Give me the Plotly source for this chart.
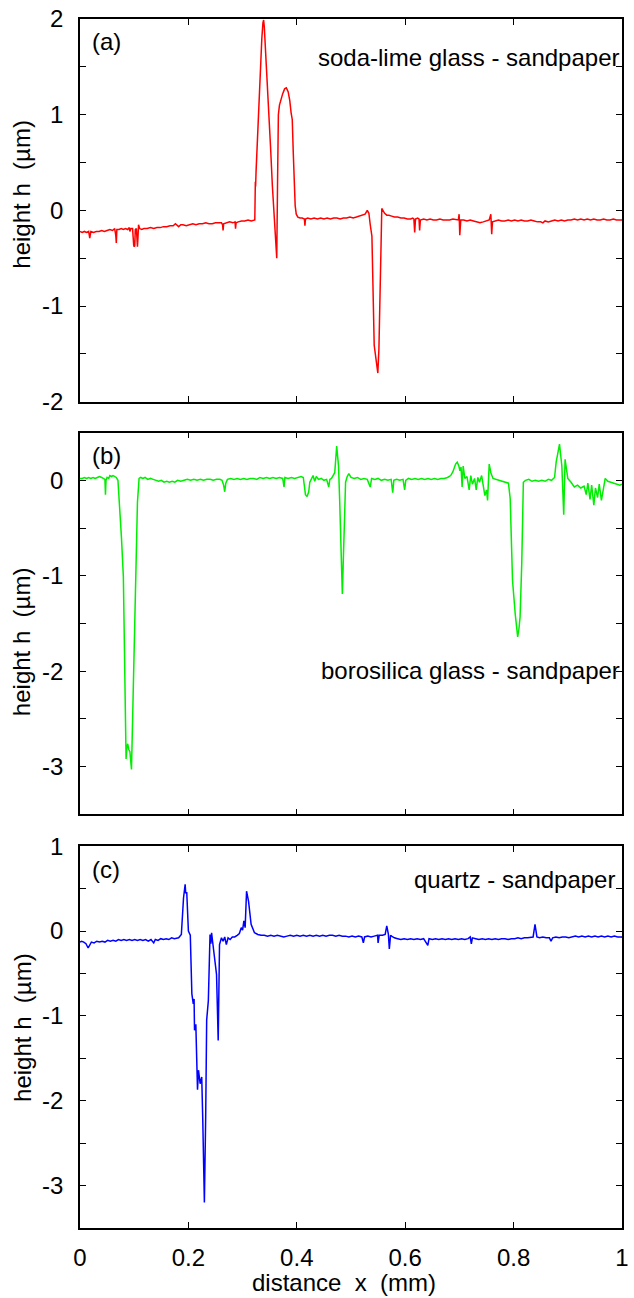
import plotly.graph_objects as go

# Surface height profiles h(x) measured across scratches made with sandpaper.
# Each profile is a list of (distance x in mm, height h in um) samples.
soda_lime = [
    (0.000, -0.22), (0.004, -0.23), (0.008, -0.22), (0.012, -0.23), (0.016, -0.22), (0.018, -0.29), (0.020, -0.22),
    (0.025, -0.23), (0.030, -0.22), (0.035, -0.22), (0.040, -0.21), (0.045, -0.22), (0.050, -0.21), (0.055, -0.20),
    (0.060, -0.21), (0.064, -0.19), (0.066, -0.26), (0.067, -0.34), (0.068, -0.20), (0.072, -0.20), (0.076, -0.19),
    (0.080, -0.20), (0.084, -0.19), (0.088, -0.20), (0.091, -0.18), (0.092, -0.22), (0.094, -0.19), (0.097, -0.19),
    (0.099, -0.36), (0.100, -0.38), (0.101, -0.37), (0.102, -0.20), (0.104, -0.19), (0.105, -0.30), (0.106, -0.38),
    (0.107, -0.28), (0.108, -0.15), (0.110, -0.19), (0.114, -0.20), (0.118, -0.19), (0.124, -0.19), (0.130, -0.18),
    (0.136, -0.19), (0.142, -0.18), (0.148, -0.18), (0.154, -0.17), (0.160, -0.17), (0.166, -0.16), (0.172, -0.16),
    (0.176, -0.14), (0.178, -0.15), (0.182, -0.17), (0.186, -0.15), (0.190, -0.15), (0.196, -0.16), (0.202, -0.15),
    (0.208, -0.14), (0.214, -0.15), (0.220, -0.14), (0.226, -0.14), (0.232, -0.13), (0.238, -0.14), (0.244, -0.14),
    (0.250, -0.13), (0.256, -0.13), (0.261, -0.13), (0.263, -0.15), (0.264, -0.21), (0.265, -0.14), (0.270, -0.13),
    (0.276, -0.12), (0.282, -0.13), (0.286, -0.12), (0.287, -0.19), (0.288, -0.13), (0.292, -0.12), (0.298, -0.11),
    (0.304, -0.11), (0.310, -0.10), (0.316, -0.11), (0.320, -0.10), (0.3225, -0.10),
    (0.3235, 0.30), (0.3240, 0.25), (0.3248, 0.40), (0.3265, 0.65), (0.3275, 0.80), (0.3280, 0.72), (0.3291, 0.85),
    (0.3310, 1.15), (0.3328, 1.43), (0.3355, 1.80), (0.3375, 1.96), (0.3388, 1.99), (0.3400, 1.92), (0.3440, 1.52),
    (0.3480, 1.08), (0.3515, 0.67), (0.3550, 0.25), (0.3585, -0.10), (0.3615, -0.40), (0.3630, -0.50),
    (0.3645, 0.30), (0.3660, 1.00), (0.3680, 1.10), (0.3710, 1.17), (0.3740, 1.22), (0.3775, 1.27), (0.3807, 1.28),
    (0.3840, 1.24), (0.3870, 1.15), (0.3895, 1.02), (0.3916, 0.95), (0.3935, 0.60), (0.3955, 0.20), (0.3970, 0.05),
    (0.3990, -0.04), (0.4020, -0.07), (0.4060, -0.08), (0.4100, -0.08), (0.4140, -0.09), (0.4150, -0.16),
    (0.4160, -0.09), (0.4200, -0.08), (0.426, -0.09), (0.432, -0.08), (0.438, -0.09), (0.444, -0.08), (0.450, -0.09),
    (0.456, -0.08), (0.462, -0.09), (0.468, -0.08), (0.474, -0.08), (0.480, -0.09), (0.486, -0.08), (0.492, -0.08),
    (0.498, -0.07), (0.504, -0.08), (0.510, -0.07), (0.516, -0.06), (0.522, -0.05), (0.526, -0.04), (0.530, 0.00),
    (0.5330, -0.03), (0.5355, -0.15), (0.5386, -0.27), (0.5428, -1.41), (0.5470, -1.62), (0.5495, -1.70),
    (0.5515, -1.45), (0.5537, -0.99), (0.5555, -0.35), (0.5568, 0.02), (0.5590, 0.00), (0.5620, -0.03),
    (0.566, -0.05), (0.570, -0.05), (0.575, -0.06), (0.580, -0.07), (0.586, -0.07), (0.592, -0.08), (0.598, -0.08),
    (0.604, -0.09), (0.610, -0.09), (0.614, -0.08), (0.616, -0.09), (0.6175, -0.23), (0.619, -0.09), (0.623, -0.08),
    (0.6255, -0.09), (0.6266, -0.21), (0.628, -0.10), (0.634, -0.09), (0.640, -0.10), (0.646, -0.09), (0.652, -0.10),
    (0.658, -0.10), (0.664, -0.09), (0.670, -0.10), (0.676, -0.10), (0.682, -0.10), (0.688, -0.09), (0.694, -0.10),
    (0.698, -0.10), (0.6995, -0.04), (0.7007, -0.26), (0.7025, -0.10), (0.708, -0.10), (0.714, -0.11), (0.720, -0.10),
    (0.726, -0.11), (0.732, -0.12), (0.738, -0.13), (0.744, -0.12), (0.750, -0.11), (0.755, -0.10), (0.758, -0.04),
    (0.7596, -0.25), (0.761, -0.12), (0.766, -0.11), (0.772, -0.10), (0.778, -0.11), (0.784, -0.11), (0.790, -0.10),
    (0.796, -0.11), (0.802, -0.10), (0.808, -0.11), (0.814, -0.10), (0.820, -0.11), (0.826, -0.11), (0.832, -0.10),
    (0.838, -0.11), (0.844, -0.12), (0.850, -0.12), (0.854, -0.13), (0.858, -0.11), (0.864, -0.12), (0.870, -0.11),
    (0.876, -0.10), (0.882, -0.11), (0.888, -0.10), (0.894, -0.11), (0.900, -0.10), (0.906, -0.10), (0.912, -0.09),
    (0.918, -0.10), (0.924, -0.09), (0.930, -0.10), (0.936, -0.09), (0.942, -0.10), (0.948, -0.09), (0.954, -0.10),
    (0.960, -0.10), (0.966, -0.09), (0.972, -0.10), (0.978, -0.10), (0.984, -0.09), (0.990, -0.10), (0.996, -0.10),
    (1.000, -0.10),
]

borosilica = [
    (0.000, 0.02), (0.004, 0.02), (0.008, 0.03), (0.012, 0.02), (0.016, 0.03), (0.020, 0.02), (0.024, 0.03),
    (0.028, 0.02), (0.032, 0.03), (0.036, 0.04), (0.040, 0.03), (0.044, 0.02), (0.046, 0.01), (0.047, -0.15),
    (0.048, 0.00), (0.050, 0.03), (0.053, 0.02), (0.055, 0.05), (0.058, 0.04), (0.061, 0.05), (0.064, 0.04),
    (0.067, 0.03), (0.070, 0.00), (0.0715, -0.14), (0.073, -0.17), (0.0765, -0.60), (0.080, -1.01), (0.0825, -1.95),
    (0.085, -2.92), (0.0865, -2.80), (0.088, -2.76), (0.090, -2.82), (0.092, -2.84), (0.095, -3.03), (0.098, -2.25),
    (0.1005, -1.60), (0.103, -1.05), (0.106, -0.23), (0.109, 0.02), (0.112, 0.03), (0.116, 0.02), (0.120, 0.03),
    (0.125, 0.01), (0.130, 0.02), (0.135, 0.01), (0.140, 0.00), (0.145, -0.01), (0.150, 0.00), (0.155, -0.02),
    (0.160, -0.01), (0.165, -0.02), (0.170, -0.01), (0.175, -0.02), (0.180, 0.00), (0.186, -0.01), (0.192, 0.00),
    (0.198, 0.01), (0.204, 0.00), (0.210, 0.01), (0.216, 0.00), (0.222, 0.01), (0.228, 0.00), (0.234, 0.01),
    (0.240, 0.01), (0.246, 0.00), (0.252, 0.01), (0.258, 0.01), (0.262, 0.00), (0.265, -0.05), (0.267, -0.12),
    (0.269, -0.03), (0.272, 0.01), (0.278, 0.02), (0.284, 0.01), (0.290, 0.02), (0.296, 0.01), (0.302, 0.02),
    (0.308, 0.01), (0.314, 0.02), (0.320, 0.02), (0.326, 0.01), (0.332, 0.03), (0.338, 0.02), (0.344, 0.03),
    (0.350, 0.02), (0.356, 0.03), (0.362, 0.02), (0.368, 0.03), (0.374, 0.02), (0.3765, -0.07), (0.378, 0.03),
    (0.384, 0.02), (0.390, 0.03), (0.396, 0.02), (0.402, 0.03), (0.408, 0.04), (0.412, 0.03), (0.414, -0.05),
    (0.416, -0.15), (0.419, -0.17), (0.422, -0.12), (0.424, -0.02), (0.428, 0.03), (0.430, 0.05), (0.433, -0.01),
    (0.436, 0.04), (0.440, 0.01), (0.445, 0.02), (0.450, 0.00), (0.455, 0.01), (0.459, -0.07), (0.461, 0.01),
    (0.464, 0.02), (0.467, 0.05), (0.470, 0.08), (0.4736, 0.36), (0.476, 0.20), (0.477, 0.15), (0.479, -0.19),
    (0.482, -1.01), (0.484, -1.19), (0.4855, -0.90), (0.487, -0.53), (0.490, -0.02), (0.493, 0.04), (0.496, 0.07),
    (0.500, 0.03), (0.506, 0.02), (0.512, 0.03), (0.518, 0.01), (0.524, 0.02), (0.530, 0.01), (0.5355, -0.07),
    (0.538, 0.02), (0.544, 0.01), (0.550, 0.02), (0.556, 0.00), (0.562, 0.01), (0.568, 0.00), (0.574, 0.01),
    (0.577, -0.13), (0.579, 0.00), (0.584, 0.01), (0.590, 0.00), (0.596, 0.01), (0.599, -0.10), (0.601, 0.00),
    (0.606, 0.02), (0.612, 0.01), (0.618, 0.02), (0.624, 0.01), (0.630, 0.02), (0.636, 0.01), (0.642, 0.02),
    (0.648, 0.01), (0.654, 0.02), (0.660, 0.01), (0.666, 0.02), (0.672, 0.02), (0.678, 0.03), (0.684, 0.05),
    (0.688, 0.09), (0.693, 0.17), (0.696, 0.19), (0.699, 0.15), (0.701, 0.10), (0.703, 0.14), (0.705, -0.07),
    (0.707, 0.15), (0.710, 0.02), (0.714, 0.04), (0.718, -0.10), (0.721, 0.05), (0.724, -0.04), (0.728, 0.02),
    (0.731, -0.10), (0.734, 0.03), (0.737, -0.02), (0.741, 0.05), (0.744, -0.05), (0.747, -0.16), (0.750, -0.10),
    (0.752, -0.21), (0.755, 0.17), (0.758, 0.08), (0.762, 0.02), (0.768, 0.01), (0.774, 0.00), (0.780, -0.01),
    (0.786, -0.02), (0.7905, -0.03), (0.7937, -0.19), (0.798, -1.05), (0.803, -1.40), (0.8075, -1.64), (0.810, -1.55),
    (0.812, -1.43), (0.815, -0.88), (0.818, -0.02), (0.822, 0.00), (0.828, 0.01), (0.834, -0.01), (0.840, 0.00),
    (0.846, -0.01), (0.852, 0.00), (0.858, -0.01), (0.864, 0.01), (0.870, 0.00), (0.8756, 0.03), (0.8785, 0.19),
    (0.8847, 0.38), (0.889, 0.15), (0.8925, -0.36), (0.895, 0.22), (0.900, 0.02), (0.906, -0.02), (0.912, -0.07),
    (0.918, -0.05), (0.924, -0.08), (0.930, -0.06), (0.934, -0.15), (0.937, -0.03), (0.941, -0.20), (0.944, -0.05),
    (0.948, -0.26), (0.951, -0.08), (0.955, -0.18), (0.958, -0.04), (0.962, -0.21), (0.966, -0.08), (0.969, 0.02),
    (0.974, -0.01), (0.980, -0.02), (0.986, -0.03), (0.992, -0.04), (0.996, -0.05), (1.000, -0.04),
]

quartz = [
    (0.000, -0.13), (0.003, -0.12), (0.007, -0.13), (0.011, -0.15), (0.015, -0.20), (0.018, -0.16), (0.021, -0.13),
    (0.026, -0.14), (0.031, -0.12), (0.036, -0.13), (0.041, -0.12), (0.046, -0.13), (0.051, -0.11), (0.056, -0.12),
    (0.061, -0.11), (0.066, -0.12), (0.071, -0.10), (0.076, -0.11), (0.081, -0.10), (0.086, -0.11), (0.091, -0.10),
    (0.096, -0.11), (0.101, -0.10), (0.106, -0.11), (0.111, -0.10), (0.116, -0.11), (0.121, -0.10), (0.126, -0.12),
    (0.131, -0.10), (0.136, -0.14), (0.139, -0.10), (0.144, -0.11), (0.149, -0.09), (0.154, -0.10), (0.159, -0.09),
    (0.164, -0.10), (0.169, -0.08), (0.174, -0.09), (0.179, -0.08), (0.182, -0.08), (0.187, -0.04), (0.191, 0.39),
    (0.194, 0.55), (0.195, 0.45), (0.197, 0.45), (0.200, 0.00), (0.2035, -0.05), (0.2064, -0.74), (0.209, -0.86),
    (0.2105, -0.80), (0.2113, -1.17), (0.2137, -1.10), (0.2168, -1.87), (0.2186, -1.64), (0.2217, -1.80),
    (0.2246, -1.72), (0.2264, -2.19), (0.2295, -3.20), (0.2319, -2.19), (0.2337, -1.05), (0.2368, -0.82),
    (0.2399, -0.04), (0.2415, -0.15), (0.2428, -0.02), (0.2446, -0.12), (0.249, -0.39), (0.2519, -0.51),
    (0.255, -1.29), (0.2574, -0.16), (0.261, -0.08), (0.264, -0.12), (0.267, -0.07), (0.270, -0.16), (0.2732, -0.08),
    (0.277, -0.10), (0.281, -0.07), (0.2854, -0.07), (0.290, -0.05), (0.294, -0.03), (0.2975, 0.04), (0.300, 0.01),
    (0.3024, 0.12), (0.3047, 0.04), (0.3073, 0.47), (0.311, 0.35), (0.3157, 0.08), (0.3219, -0.02), (0.328, -0.04),
    (0.334, -0.05), (0.340, -0.05), (0.346, -0.06), (0.352, -0.05), (0.358, -0.06), (0.364, -0.05), (0.370, -0.06),
    (0.376, -0.07), (0.382, -0.06), (0.388, -0.05), (0.394, -0.06), (0.400, -0.05), (0.406, -0.06), (0.412, -0.05),
    (0.418, -0.06), (0.424, -0.05), (0.430, -0.06), (0.436, -0.05), (0.442, -0.06), (0.448, -0.05), (0.454, -0.06),
    (0.460, -0.05), (0.466, -0.05), (0.472, -0.06), (0.478, -0.05), (0.484, -0.06), (0.490, -0.06), (0.496, -0.07),
    (0.502, -0.06), (0.508, -0.07), (0.514, -0.06), (0.520, -0.07), (0.5228, -0.14), (0.525, -0.07), (0.531, -0.06),
    (0.537, -0.07), (0.543, -0.06), (0.549, -0.05), (0.550, -0.14), (0.552, -0.05), (0.558, -0.05), (0.563, -0.04),
    (0.566, 0.06), (0.569, -0.04), (0.5707, -0.21), (0.573, -0.05), (0.575, -0.06), (0.580, -0.08), (0.586, -0.09),
    (0.592, -0.10), (0.598, -0.09), (0.604, -0.10), (0.610, -0.09), (0.616, -0.10), (0.622, -0.09), (0.628, -0.10),
    (0.634, -0.09), (0.6417, -0.17), (0.644, -0.09), (0.650, -0.10), (0.656, -0.09), (0.662, -0.10), (0.668, -0.09),
    (0.674, -0.10), (0.680, -0.09), (0.686, -0.10), (0.692, -0.09), (0.698, -0.10), (0.704, -0.09), (0.710, -0.10),
    (0.716, -0.09), (0.720, -0.07), (0.722, -0.15), (0.724, -0.08), (0.730, -0.09), (0.736, -0.10), (0.742, -0.09),
    (0.748, -0.10), (0.754, -0.09), (0.760, -0.10), (0.766, -0.09), (0.772, -0.10), (0.778, -0.09), (0.784, -0.09),
    (0.790, -0.10), (0.796, -0.09), (0.802, -0.09), (0.808, -0.08), (0.814, -0.09), (0.820, -0.08), (0.826, -0.08),
    (0.832, -0.07), (0.836, -0.07), (0.8395, 0.08), (0.8415, -0.03), (0.843, -0.07), (0.848, -0.08), (0.854, -0.07),
    (0.860, -0.08), (0.866, -0.08), (0.869, -0.12), (0.872, -0.08), (0.878, -0.07), (0.884, -0.08), (0.890, -0.07),
    (0.896, -0.07), (0.902, -0.08), (0.908, -0.07), (0.914, -0.06), (0.920, -0.07), (0.926, -0.06), (0.932, -0.07),
    (0.938, -0.06), (0.944, -0.07), (0.950, -0.06), (0.956, -0.07), (0.962, -0.06), (0.968, -0.07), (0.974, -0.06),
    (0.980, -0.07), (0.986, -0.06), (0.992, -0.07), (1.000, -0.07),
]

x_ticks = [0, 0.2, 0.4, 0.6, 0.8, 1.0]
x_tick_labels = ["0", "0.2", "0.4", "0.6", "0.8", "1"]

panels = [
    # (profile, colour, y range, label, sample name, name position in axis-domain units)
    (soda_lime, "#ff0000", (-2.0, 2.0), "(a)", "soda-lime glass - sandpaper", (1.0, 0.900)),
    (borosilica, "#00ee00", (-3.5, 0.5), "(b)", "borosilica glass - sandpaper", (1.0, 0.378)),
    (quartz, "#0000ff", (-3.5, 1.0), "(c)", "quartz - sandpaper", (0.991, 0.914)),
]
domains = [(0.6834, 1.0), (0.3421, 0.6579), (0.0, 0.3158)]
y_title_pos = [0.8553, 0.4852, 0.1661]

FONT = "Liberation Sans, Arial, sans-serif"
fig = go.Figure()
annotations = []

for i, (profile, colour, (y0, y1), tag, name, (nx, ny)) in enumerate(panels):
    n = "" if i == 0 else str(i + 1)
    xs = [p[0] for p in profile]
    hs = [p[1] for p in profile]
    fig.add_trace(go.Scatter(x=xs, y=hs, mode="lines", xaxis="x" + n, yaxis="y" + n,
                             line=dict(color=colour, width=1.5), showlegend=False))

    # y ticks every 0.5 um, labelled at whole numbers only
    yv, yt = [], []
    v = y0
    while v <= y1 + 1e-9:
        yv.append(round(v, 2))
        yt.append(str(int(round(v))) if abs(v - round(v)) < 1e-9 else "")
        v += 0.5

    axis_common = dict(showline=True, linecolor="black", linewidth=1.6, mirror="allticks",
                       ticks="inside", ticklen=6, tickwidth=1.3, tickcolor="black",
                       showgrid=False, zeroline=False,
                       tickfont=dict(family=FONT, size=24, color="black"))
    fig.layout["xaxis" + n] = dict(axis_common, domain=[0, 1], range=[0, 1], anchor="y" + n,
                                   tickvals=x_ticks, ticktext=x_tick_labels,
                                   showticklabels=(i == 2), ticklabelstandoff=7)
    fig.layout["yaxis" + n] = dict(axis_common, domain=list(domains[i]), range=[y0, y1], anchor="x" + n,
                                   tickvals=yv, ticktext=yt, ticklabelstandoff=10)

    annotations.append(dict(text=tag, xref="x%s domain" % n, yref="y%s domain" % n,
                            x=0.018, y=0.94, xanchor="left", yanchor="middle",
                            showarrow=False, font=dict(family=FONT, size=24, color="black")))
    annotations.append(dict(text=name, xref="x%s domain" % n, yref="y%s domain" % n,
                            x=nx, y=ny, xanchor="right", yanchor="middle",
                            showarrow=False, font=dict(family=FONT, size=24, color="black")))
    annotations.append(dict(text="height h\u00a0\u00a0(\u00b5m)", xref="paper", yref="paper",
                            x=-0.1075, y=y_title_pos[i], xanchor="center", yanchor="middle",
                            textangle=-90, showarrow=False,
                            font=dict(family=FONT, size=24, color="black")))

annotations.append(dict(text="distance\u00a0\u00a0x\u00a0\u00a0(mm)", xref="paper", yref="paper",
                        x=0.487, y=-0.0452, xanchor="center", yanchor="middle", showarrow=False,
                        font=dict(family=FONT, size=24, color="black")))

fig.update_layout(width=634, height=1298, margin=dict(l=80, r=5, t=12, b=70),
                  plot_bgcolor="white", paper_bgcolor="white", annotations=annotations,
                  font=dict(family=FONT, size=24, color="black"))

fig.write_html("out.html")
